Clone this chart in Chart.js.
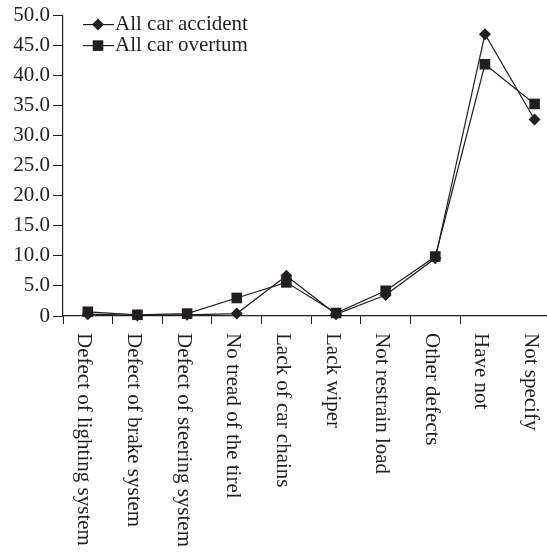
<!DOCTYPE html>
<html>
<head>
<meta charset="utf-8">
<script src="https://cdn.jsdelivr.net/npm/chart.js@4.4.1/dist/chart.umd.min.js"></script>
<style>
  html, body { margin: 0; padding: 0; background: #fff; }
  #wrap { width: 547px; height: 554px; }
</style>
</head>
<body>
<div id="wrap"><canvas id="lineChart"></canvas></div>
<script>
// Categories along the x axis
var categories = [
  'Defect of lighting system', 'Defect of brake system', 'Defect of steering system',
  'No tread of the tirel', 'Lack of car chains', 'Lack wiper', 'Not restrain load',
  'Other defects', 'Have not', 'Not specify'
];
// Series values (%)
var accidentValues = [0.3, 0.1, 0.2, 0.4, 6.7, 0.3, 3.5, 9.6, 46.9, 32.7];
var overturnValues = [0.7, 0.2, 0.4, 3.0, 5.6, 0.5, 4.2, 9.9, 41.9, 35.3];
var seriesNames = ['All car accident', 'All car overtum'];
// Y tick labels
var yTicks = [0, 5, 10, 15, 20, 25, 30, 35, 40, 45, 50];

var ink = '#231f20';
var fontFamily = '"Liberation Serif", "Times New Roman", serif';
var fontSize = 21;

function toPoints(values) {
  return values.map(function(v, i) { return { x: i, y: v }; });
}

// Draws the rotated category labels and the legend box
var extrasPlugin = {
  id: 'extras',
  afterDraw: function(chart) {
    var ctx = chart.ctx;
    var xs = chart.scales.x;
    var area = chart.chartArea;
    ctx.save();
    ctx.fillStyle = ink;
    ctx.font = fontSize + 'px ' + fontFamily;
    ctx.textAlign = 'left';
    ctx.textBaseline = 'middle';
    categories.forEach(function(label, i) {
      var px = xs.getPixelForValue(i) - 4;
      ctx.save();
      ctx.translate(px, area.bottom + 17);
      ctx.rotate(Math.PI / 2);
      ctx.fillText(label, 0, 0);
      ctx.restore();
    });

    // Legend
    var lx = area.left + 20, rowY = [area.top + 9, area.top + 30];
    ctx.strokeStyle = ink;
    ctx.lineWidth = 1.2;
    rowY.forEach(function(y, k) {
      ctx.beginPath();
      ctx.moveTo(lx, y);
      ctx.lineTo(lx + 31, y);
      ctx.stroke();
      var cx = lx + 15;
      ctx.beginPath();
      if (k === 0) {
        ctx.moveTo(cx, y - 6);
        ctx.lineTo(cx + 6, y);
        ctx.lineTo(cx, y + 6);
        ctx.lineTo(cx - 6, y);
        ctx.closePath();
      } else {
        ctx.rect(cx - 5.3, y - 5.3, 10.6, 10.6);
      }
      ctx.fill();
      ctx.fillText(seriesNames[k], lx + 32, y);
    });
    ctx.restore();
  }
};

var ctx = document.getElementById('lineChart').getContext('2d');
var lineChart = new Chart(ctx, {
  type: 'line',
  data: {
    datasets: [
      {
        label: seriesNames[0],
        data: toPoints(accidentValues),
        borderColor: ink,
        backgroundColor: ink,
        borderWidth: 1.2,
        pointStyle: 'rectRot',
        pointRadius: 6,
        pointHoverRadius: 6,
        pointBorderWidth: 0,
        tension: 0,
        clip: false
      },
      {
        label: seriesNames[1],
        data: toPoints(overturnValues),
        borderColor: ink,
        backgroundColor: ink,
        borderWidth: 1.2,
        pointStyle: 'rect',
        pointRadius: 7.5,
        pointHoverRadius: 7.5,
        pointBorderWidth: 0,
        tension: 0,
        clip: false
      }
    ]
  },
  options: {
    responsive: true,
    maintainAspectRatio: false,
    animation: false,
    layout: { autoPadding: false, padding: { top: 13, left: 0, right: 0, bottom: 0 } },
    plugins: {
      legend: { display: false },
      tooltip: { enabled: false }
    },
    scales: {
      x: {
        type: 'linear',
        min: -0.5,
        max: 9.25,
        afterBuildTicks: function(scale) {
          scale.ticks = categories.slice(0, categories.length - 1).map(function(c, i) {
            return { value: i - 0.5 };
          });
        },
        afterFit: function(scale) { scale.height = 238; },
        grid: { drawOnChartArea: false, drawTicks: true, tickLength: 8, color: ink, lineWidth: 1 },
        border: { display: true, color: ink, width: 1.2 },
        ticks: { display: false }
      },
      y: {
        min: 0,
        max: 50,
        afterBuildTicks: function(scale) {
          scale.ticks = yTicks.map(function(v) { return { value: v }; });
        },
        afterFit: function(scale) { scale.width = 63; },
        grid: { drawOnChartArea: false, drawTicks: true, tickLength: 10, color: ink, lineWidth: 1 },
        border: { display: true, color: ink, width: 1.2 },
        ticks: {
          color: ink,
          padding: 3,
          font: { family: fontFamily, size: fontSize },
          callback: function(v) { return v === 0 ? '0' : v.toFixed(1); }
        }
      }
    }
  },
  plugins: [extrasPlugin]
});
</script>
</body>
</html>
